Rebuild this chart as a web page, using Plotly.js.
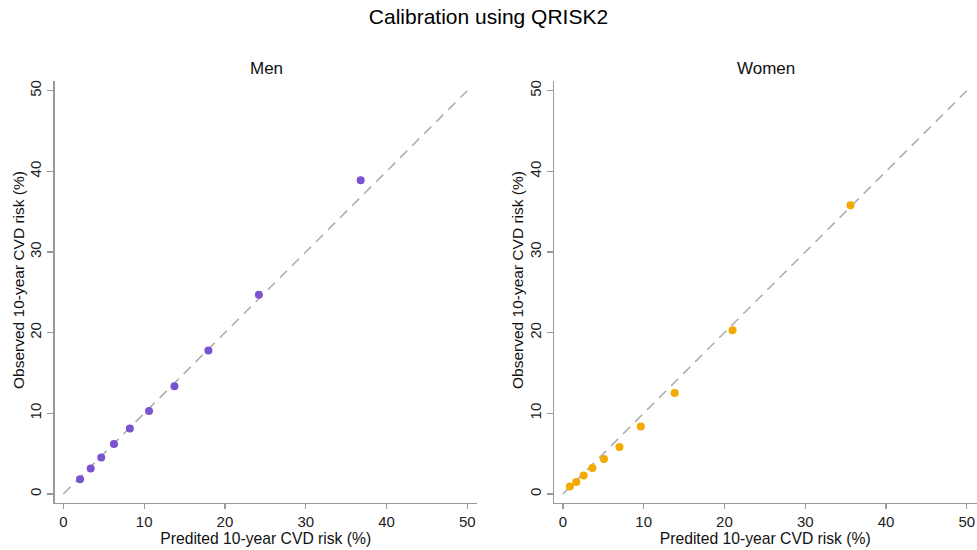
<!DOCTYPE html>
<html>
<head>
<meta charset="utf-8">
<script src="https://cdn.plot.ly/plotly-3.0.1.min.js"></script>
<style>html,body{margin:0;padding:0;background:#fff;}#chart{width:977px;height:550px;}</style>
</head>
<body>
<div id="chart"></div>
<script>
// Data
var menPredicted   = [2.06, 3.38, 4.69, 6.26, 8.23, 10.6, 13.75, 17.95, 24.2, 36.8];
var menObserved    = [1.83, 3.16, 4.53, 6.18, 8.13, 10.3, 13.36, 17.8, 24.7, 38.9];
var womenPredicted = [0.87, 1.66, 2.57, 3.65, 5.09, 7.0, 9.65, 13.84, 21.0, 35.6];
var womenObserved  = [0.92, 1.49, 2.29, 3.23, 4.32, 5.81, 8.38, 12.52, 20.3, 35.8];
var refLine = [0, 50];
var tickValues = [0, 10, 20, 30, 40, 50];
var panelTitles = ["Men", "Women"];
var mainTitle = "Calibration using QRISK2";
var xTitle = "Predited 10-year CVD risk (%)";
var yTitle = "Observed 10-year CVD risk (%)";

var W = 977, H = 550;
var font = "Liberation Sans, Arial, sans-serif";
var purple = "#7B52CF", orange = "#F2A900", dashGray = "#ABABAB", axisGray = "#9A9A9A";

var traces = [
  {x: refLine, y: refLine, xaxis: "x", yaxis: "y", mode: "lines",
   line: {color: dashGray, width: 1.5, dash: "10px,7px"}, hoverinfo: "skip", showlegend: false},
  {x: menPredicted, y: menObserved, xaxis: "x", yaxis: "y", mode: "markers",
   marker: {color: purple, size: 8}, showlegend: false},
  {x: refLine, y: refLine, xaxis: "x2", yaxis: "y2", mode: "lines",
   line: {color: dashGray, width: 1.5, dash: "10px,7px"}, hoverinfo: "skip", showlegend: false},
  {x: womenPredicted, y: womenObserved, xaxis: "x2", yaxis: "y2", mode: "markers",
   marker: {color: orange, size: 8}, showlegend: false}
];

var yDom = [1 - 503 / H, 1 - 81 / H];
function xa(dom, anchor) {
  return {domain: dom, anchor: anchor, range: [-1.1, 51.2], tickvals: tickValues,
    showgrid: false, zeroline: false, showline: true, linecolor: axisGray, linewidth: 1.3,
    ticks: "outside", ticklen: 5, tickcolor: axisGray, tickwidth: 1.3,
    tickfont: {family: font, size: 15, color: "#222"},
    title: {text: xTitle, font: {family: font, size: 15.7, color: "#111"}, standoff: 1}};
}
function ya(anchor) {
  return {domain: yDom, anchor: anchor, range: [-1.12, 51.2], tickvals: tickValues,
    showgrid: false, zeroline: false, showline: true, linecolor: axisGray, linewidth: 1.3,
    ticks: "outside", ticklen: 6, tickcolor: axisGray, tickwidth: 1.3, tickangle: -90,
    tickfont: {family: font, size: 15, color: "#222"}};
}
function ann(text, x, y, size, angle) {
  return {text: text, xref: "paper", yref: "paper", x: x / W, y: 1 - y / H,
    xanchor: "center", yanchor: "middle", showarrow: false, textangle: angle || 0,
    font: {family: font, size: size, color: "#111"}};
}

var layout = {
  width: W, height: H,
  margin: {l: 0, r: 0, t: 0, b: 0},
  paper_bgcolor: "#fff", plot_bgcolor: "#fff",
  title: {text: mainTitle, x: 0.5, xanchor: "center", y: 1 - 17 / H, yanchor: "middle",
    font: {family: font, size: 21, color: "#000"}},
  xaxis: xa([54.5 / W, 477 / W], "y"),
  yaxis: ya("x"),
  xaxis2: xa([554 / W, 976.5 / W], "y2"),
  yaxis2: ya("x2"),
  annotations: [
    ann(panelTitles[0], 266, 68, 17, 0),
    ann(panelTitles[1], 766, 68, 17, 0),
    ann(yTitle, 19, 280, 15.5, -90),
    ann(yTitle, 518, 280, 15.5, -90)
  ]
};

Plotly.newPlot("chart", traces, layout, {displayModeBar: false, staticPlot: true});
</script>
</body>
</html>
